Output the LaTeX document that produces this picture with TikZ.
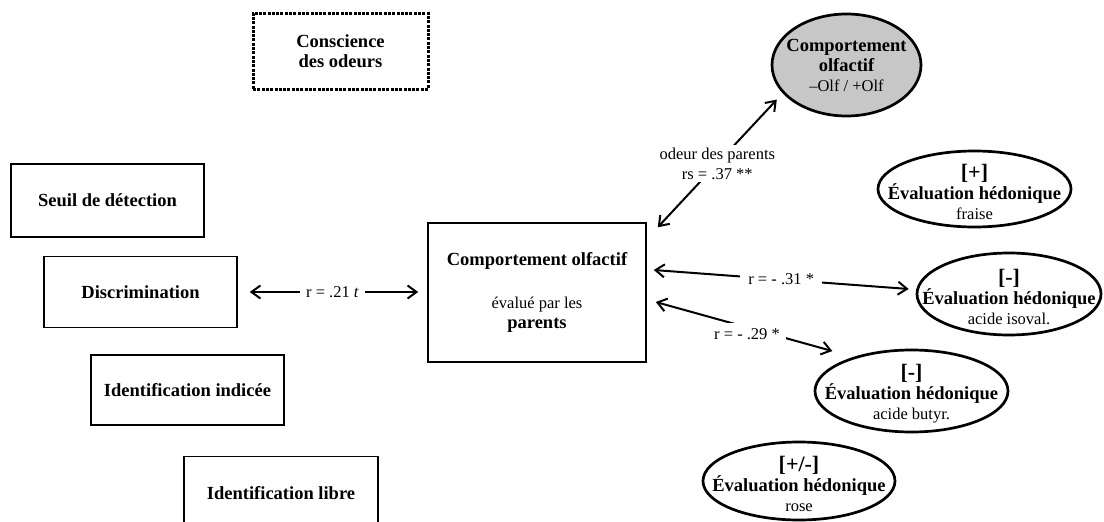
\documentclass[tikz,border=0pt]{standalone}
\usepackage{fontspec}
\setmainfont{Liberation Serif}
\usetikzlibrary{positioning,arrows.meta,shapes}
\tikzstyle{mbox}=[rectangle, draw=black, line width=1.5pt, minimum width=193pt,
 minimum height=72pt, text centered, font=\fontsize{18.5}{20}\selectfont\bfseries]
\tikzstyle{dbox}=[rectangle, draw=black, line width=3pt, dash pattern=on 3pt off 1.3pt,
 minimum width=175pt, minimum height=76pt, align=center,
 font=\fontsize{18.5}{20}\selectfont\bfseries]
\tikzstyle{cbox}=[rectangle, draw=black, line width=1.5pt, minimum width=218pt,
 minimum height=139pt, align=center, font=\fontsize{16.5}{20}\selectfont]
\tikzstyle{obox}=[ellipse, draw=black, line width=2.7pt, inner sep=0pt]
\tikzstyle{otext}=[align=center, inner sep=0pt, font=\fontsize{16.5}{20}\selectfont]
\tikzstyle{rline}=[{Straight Barb[length=9pt,width=13pt]}-{Straight Barb[length=9pt,width=13pt]},
 line width=2pt]
\tikzstyle{rlab}=[fill=white, inner sep=6pt, align=center, font=\fontsize{16.5}{20}\selectfont]
\newcommand{\gras}[1]{{\fontsize{18.5}{20}\selectfont\bfseries #1}}
\newcommand{\signe}[1]{{\fontsize{22}{21}\selectfont\bfseries #1}}

\begin{document}
\begin{tikzpicture}[x=1pt, y=-1pt]
\useasboundingbox (0,0) rectangle (1104,522);

% olfactory tests (left column)
\node (CONSC) [dbox] at (340.5,51) {Conscience\\des odeurs};
\node (SEUIL) [mbox, minimum height=73pt] at (107.5,200.5) {Seuil de détection};
\node (DISCR) [mbox, minimum height=71pt, below=18pt of SEUIL, xshift=33pt] {Discrimination};
\node (IDIND) [mbox, minimum height=70pt, below=26pt of DISCR, xshift=47pt] {Identification indicée};
\node (IDLIB) [mbox, minimum width=194pt, minimum height=74pt, below=30pt of IDIND, xshift=93.5pt] {Identification libre};

\node (COMPP) [cbox] at (537,292.5) {\gras{Comportement olfactif}\\[23pt]évalué par les\\\gras{parents}};

% behaviour and hedonic ratings
\node (COMPO) [obox, fill=black!22, minimum width=149pt, minimum height=102pt] at (846.5,65) {};
\node (COMPOtxt) [otext] at (COMPO) {\gras{Comportement}\\\gras{olfactif}\\–Olf / +Olf};

\node (EVFR) [obox, minimum width=193pt, minimum height=76pt] at (974.5,189) {};
\node (EVFRtxt) [otext] at ([yshift=-3pt]EVFR.center) {\signe{[+]}\\\gras{Évaluation hédonique}\\fraise};
\node (EVIS) [obox, minimum width=184pt, minimum height=82pt] at (1009,294) {};
\node (EVIStxt) [otext] at ([yshift=-3pt]EVIS.center) {\signe{[-]}\\\gras{Évaluation hédonique}\\acide isoval.};
\node (EVBU) [obox, minimum width=193pt, minimum height=82pt] at (911.5,391) {};
\node (EVBUtxt) [otext] at ([yshift=-3pt]EVBU.center) {\signe{[-]}\\\gras{Évaluation hédonique}\\acide butyr.};
\node (EVRO) [obox, minimum width=192pt, minimum height=78pt] at (799,481) {};
\node (EVROtxt) [otext] at ([yshift=-3pt]EVRO.center) {\signe{[+/-]}\\\gras{Évaluation hédonique}\\rose};

% correlations
\draw[rline, shorten <=12pt, shorten >=9pt] (DISCR.east) -- node[rlab]{r = .21 \textit{t}} (DISCR.east -| COMPP.west);
\draw[rline] ([shift={(11,5)}]COMPP.north east) -- node[rlab, inner sep=3pt]{odeur des parents\\rs = .37 **} ([shift={(-11.5,1)}]COMPO.210);
\draw[rline] ([shift={(7,-22.5)}]COMPP.east) -- node[rlab, inner sep=8pt]{r = - .31 *} ([shift={(-7,-5)}]EVIS.west);
\draw[rline] ([shift={(9,9.5)}]COMPP.east) -- node[rlab, xshift=3pt, yshift=-8pt]{r = - .29 *} ([shift={(-10,-10)}]EVBU.north west);

\end{tikzpicture}
\end{document}
